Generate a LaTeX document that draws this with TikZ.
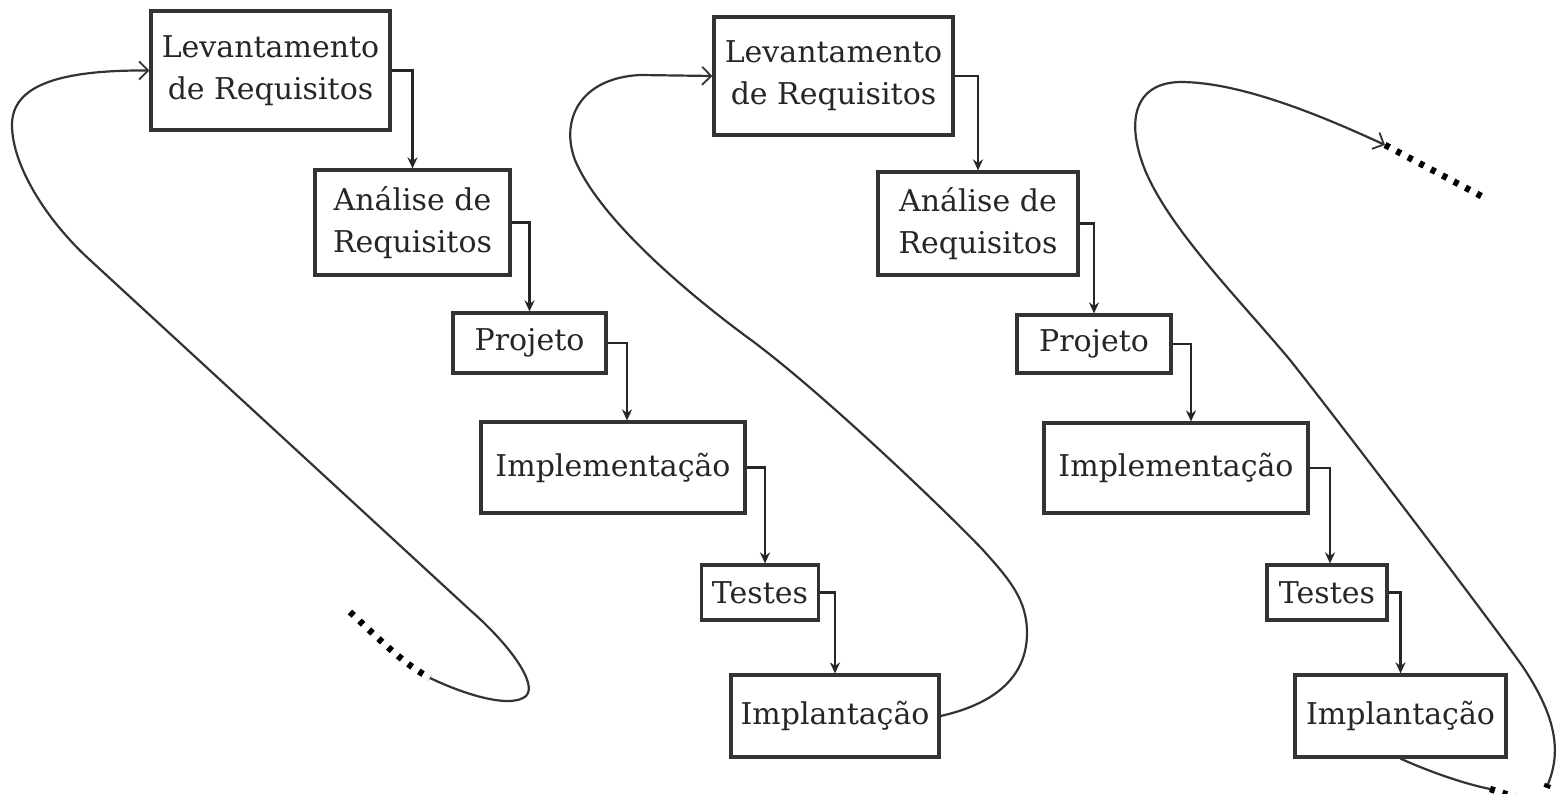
\documentclass[tikz,border=0pt]{standalone}
\usepackage{fontspec}
\setmainfont{DejaVu Serif}
\usetikzlibrary{arrows.meta}
\begin{document}
\begin{tikzpicture}[x=1pt,y=-1pt,
  stage/.style={draw=black!80, line width=3.2pt, inner sep=0pt, align=center, text=black!85,
    font=\fontsize{30}{42}\selectfont},
  link/.style={line width=2.4pt, black!85, -{Stealth[length=11pt,width=10pt]}},
  loop/.style={line width=2.2pt, black!80},
  loopend/.style={line width=2.2pt, black!80, -{Straight Barb[length=9pt,width=18pt,line width=1.8pt]}},
  dots/.style={line width=6.5pt, dash pattern=on 5pt off 8pt}]
\useasboundingbox (0,0) rectangle (1559,794);
\fill[white] (0,0) rectangle (1559,794);

% left cascade
\node[stage, minimum width=239pt, minimum height=119pt] (L1) at (270.5,70.5) {Levantamento\\de Requisitos};
\node[stage, minimum width=195pt, minimum height=105pt] (A1) at (412.5,222.5) {Análise de\\Requisitos};
\node[stage, minimum width=153pt, minimum height=60pt] (P1) at (529.5,343) {Projeto};
\node[stage, minimum width=264pt, minimum height=91pt] (I1) at (613,467.5) {Implementação};
\node[stage, minimum width=117pt, minimum height=55pt] (T1) at (760,592.5) {Testes};
\node[stage, minimum width=208pt, minimum height=82pt] (M1) at (835,716) {Implantação};

% right cascade
\node[stage, minimum width=239pt, minimum height=118pt] (L2) at (833.5,76) {Levantamento\\de Requisitos};
\node[stage, minimum width=200pt, minimum height=103pt] (A2) at (978,223.5) {Análise de\\Requisitos};
\node[stage, minimum width=154pt, minimum height=58pt] (P2) at (1094,344) {Projeto};
\node[stage, minimum width=264pt, minimum height=90pt] (I2) at (1176,468) {Implementação};
\node[stage, minimum width=120pt, minimum height=55pt] (T2) at (1327,592.5) {Testes};
\node[stage, minimum width=211pt, minimum height=82pt] (M2) at (1400.5,716) {Implantação};

% cascade links
\draw[link] (L1.east) -| (A1.north);
\draw[link] (A1.east) -| (P1.north);
\draw[link] (P1.east) -| ([xshift=14pt]I1.north);
\draw[link] (I1.east) -| ([xshift=5pt]T1.north);
\draw[link] (T1.east) -| (M1.north);
\draw[link] (L2.east) -| (A2.north);
\draw[link] (A2.east) -| (P2.north);
\draw[link] (P2.east) -| ([xshift=15pt]I2.north);
\draw[link] (I2.east) -| ([xshift=3pt]T2.north);
\draw[link] (T2.east) -| (M2.north);

% left loop
\coordinate (d1a) at (350,612);
\coordinate (d1b) at (430,678);
\draw[dots] (d1a) .. controls (380,640) and (405,665) .. (d1b);
\draw[loopend] (d1b) .. controls (470,697) and (512,708) .. (526,696)
  .. controls (538,684) and (510,645) .. (470,610)
  -- (90,260) .. controls (46,220) and (12,165) .. (12,125)
  .. controls (12,85) and (60,70) .. (L1.west);

% middle loop
\draw[loopend] (M1.east) .. controls (990,705) and (1027,680) .. (1027,633)
  .. controls (1027,600) and (1010,580) .. (983,550)
  .. controls (950,515) and (820,390) .. (747,337)
  .. controls (690,295) and (600,220) .. (575,160)
  .. controls (560,120) and (580,78) .. (640,75)
  -- (L2.west);

% right loop
\coordinate (r0) at (1548,784);
\coordinate (r1) at (1385,145);
\coordinate (r2) at (1483,197);
\draw[dots] ([shift={(-6,16)}]r0) -- (r0);
\draw[loopend] (r0) .. controls (1562,750) and (1555,715) .. (1523,667)
  .. controls (1490,620) and (1330,410) .. (1290,360)
  .. controls (1240,300) and (1170,230) .. (1145,170)
  .. controls (1125,120) and (1135,83) .. (1180,82)
  .. controls (1240,82) and (1320,115) .. (r1);
\draw[dots] (r1) -- (r2);
\coordinate (b1) at (1490,789);
\draw[loop] (M2.south) .. controls (1430,772) and (1465,784) .. (b1);
\draw[dots] (b1) -- (1525,800);
\end{tikzpicture}
\end{document}
